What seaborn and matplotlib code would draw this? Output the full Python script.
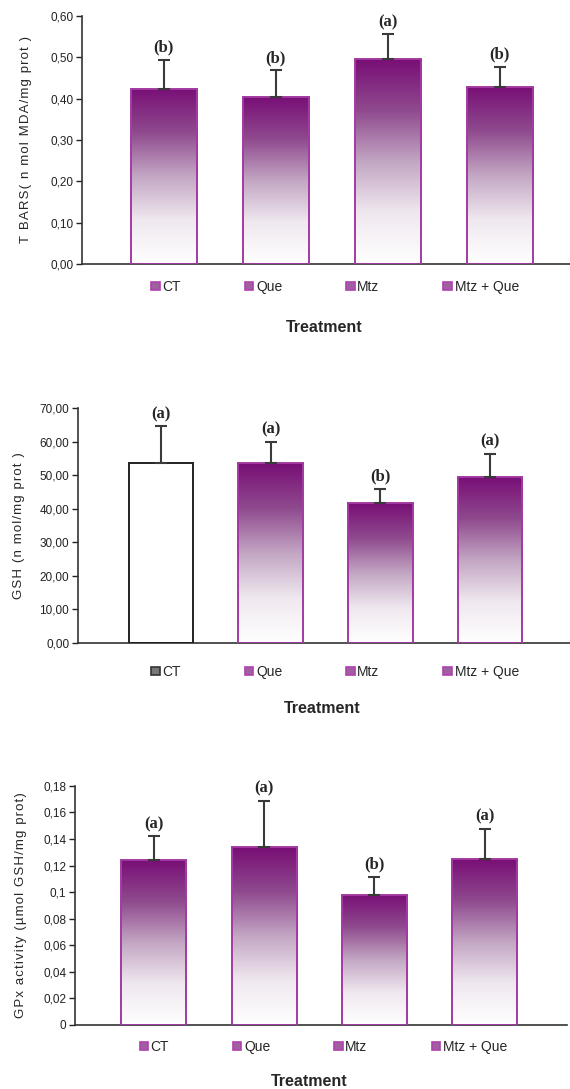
import numpy as np
import pandas as pd
import seaborn as sns
import matplotlib
matplotlib.use("Agg")
import matplotlib.pyplot as plt
from matplotlib.colors import LinearSegmentedColormap
from matplotlib.patches import Patch

groups = ["CT", "Que", "Mtz", "Mtz + Que"]

# TBARS
tbars_mean = [0.424, 0.404, 0.496, 0.429]
tbars_sd = [0.070, 0.065, 0.060, 0.048]
tbars_letters = ["(b)", "(b)", "(a)", "(b)"]
tbars_ticks = [0, 0.1, 0.2, 0.3, 0.4, 0.5, 0.6]
tbars_ticklabels = ["0,00", "0,10", "0,20", "0,30", "0,40", "0,50", "0,60"]

# GSH
gsh_mean = [53.6, 53.6, 41.7, 49.4]
gsh_sd = [11.0, 6.3, 4.2, 6.9]
gsh_letters = ["(a)", "(a)", "(b)", "(a)"]
gsh_ticks = [0, 10, 20, 30, 40, 50, 60, 70]
gsh_ticklabels = ["0,00", "10,00", "20,00", "30,00", "40,00", "50,00", "60,00", "70,00"]

# GPx
gpx_mean = [0.124, 0.134, 0.098, 0.125]
gpx_sd = [0.018, 0.035, 0.0135, 0.0226]
gpx_letters = ["(a)", "(a)", "(b)", "(a)"]
gpx_ticks = [0, 0.02, 0.04, 0.06, 0.08, 0.1, 0.12, 0.14, 0.16, 0.18]
gpx_ticklabels = ["0", "0,02", "0,04", "0,06", "0,08", "0,1", "0,12", "0,14", "0,16", "0,18"]

sns.set_theme(style="white")
plt.rcParams['font.family'] = ['Liberation Sans', 'DejaVu Sans']

purple = "#790f77"
edge = "#a23aa2"
grad = LinearSegmentedColormap.from_list(
    "grad", [(0, "#ffffff"), (0.25, "#efe8ef"), (0.5, "#c3a6c3"),
             (0.75, "#8f4a8e"), (1, purple)])
plain = LinearSegmentedColormap.from_list("plain", ["#ffffff", "#ffffff"])

fig = plt.figure(figsize=(5.70, 10.89), dpi=100)


def spaced(s):
    # the original labels are letter-spaced
    return "\u200a".join(s)


def panel(rect, means, sds, letters, ticks, ticklabels, ylabel, xlim,
          label_x, legend_xy, treat_xy, black_ct=False):
    ax = fig.add_axes(rect)
    df = pd.DataFrame({"group": groups, "value": means})
    sns.barplot(data=df, x="group", y="value", ax=ax, width=0.59,
                color="white", edgecolor=edge, linewidth=1.4, errorbar=None)
    for i, p in enumerate(ax.patches):
        x0, w, h = p.get_x(), p.get_width(), p.get_height()
        cmap = grad
        if black_ct and i == 0:
            cmap = plain
            p.set_edgecolor("#222222")
        p.set_facecolor("none")
        p.set_zorder(3)
        g = np.linspace(0, 1, 256).reshape(-1, 1)
        im = ax.imshow(g, extent=[x0, x0 + w, 0, h], origin="lower",
                       aspect="auto", cmap=cmap, zorder=2)
        im.set_clip_path(p)
    ax.errorbar(range(len(groups)), means, yerr=[np.zeros(len(sds)), sds],
                fmt="none", ecolor="#3a3a3a", elinewidth=1.5, capsize=4,
                capthick=1.5, zorder=4)
    for i, (m, s, t) in enumerate(zip(means, sds, letters)):
        ax.annotate(t, (i, m + s), xytext=(0, 3), textcoords="offset points",
                    ha="center", va="bottom", fontsize=12, fontweight="bold",
                    family="Liberation Serif")
    ax.set_xlim(xlim)
    ax.set_ylim(ticks[0], ticks[-1])
    ax.set_yticks(ticks)
    ax.set_yticklabels(ticklabels, fontsize=8.5)
    ax.set_xticks([])
    ax.set_xlabel("")
    ax.set_ylabel(spaced(ylabel), fontsize=9.5)
    ax.yaxis.set_label_coords(label_x, 0.5)
    ax.tick_params(axis="y", direction="out", length=4, width=1, pad=2,
                   left=True, colors="#222222")
    for side in ["top", "right"]:
        ax.spines[side].set_visible(False)
    for side in ["left", "bottom"]:
        ax.spines[side].set_color("#333333")
        ax.spines[side].set_linewidth(1.2)

    handles = []
    for i, g in enumerate(groups):
        if black_ct and i == 0:
            handles.append(Patch(facecolor="#777777", edgecolor="#333333",
                                 linewidth=1.2, label=g))
        else:
            handles.append(Patch(facecolor="#a060a0", edgecolor="#b040b0",
                                 linewidth=1.2, label=g))
    fig.legend(handles=handles, loc="center", bbox_to_anchor=legend_xy,
               ncol=4, frameon=False, fontsize=10, handlelength=0.6,
               handleheight=0.6, handletextpad=0.2, columnspacing=4.6,
               borderaxespad=0)
    fig.text(treat_xy[0], treat_xy[1], "Treatment", ha="center", va="center",
             fontsize=11.5, fontweight="bold")
    return ax


panel([0.144, 0.7576, 0.856, 0.2277], tbars_mean, tbars_sd, tbars_letters,
      tbars_ticks, tbars_ticklabels, "T BARS( n mol MDA/mg prot )",
      (-0.73, 3.627), -0.102, (0.588, 0.7365), (0.568, 0.699))

panel([0.136, 0.4096, 0.864, 0.2158], gsh_mean, gsh_sd, gsh_letters,
      gsh_ticks, gsh_ticklabels, "GSH (n mol/mg prot )",
      (-0.76, 3.73), -0.107, (0.588, 0.383), (0.565, 0.349), black_ct=True)

panel([0.131, 0.0588, 0.864, 0.2195], gpx_mean, gpx_sd, gpx_letters,
      gpx_ticks, gpx_ticklabels, "GPx activity (µmol GSH/mg prot)",
      (-0.72, 3.75), -0.096, (0.567, 0.0386), (0.542, 0.0067))

fig.savefig("out.png", dpi=100)
